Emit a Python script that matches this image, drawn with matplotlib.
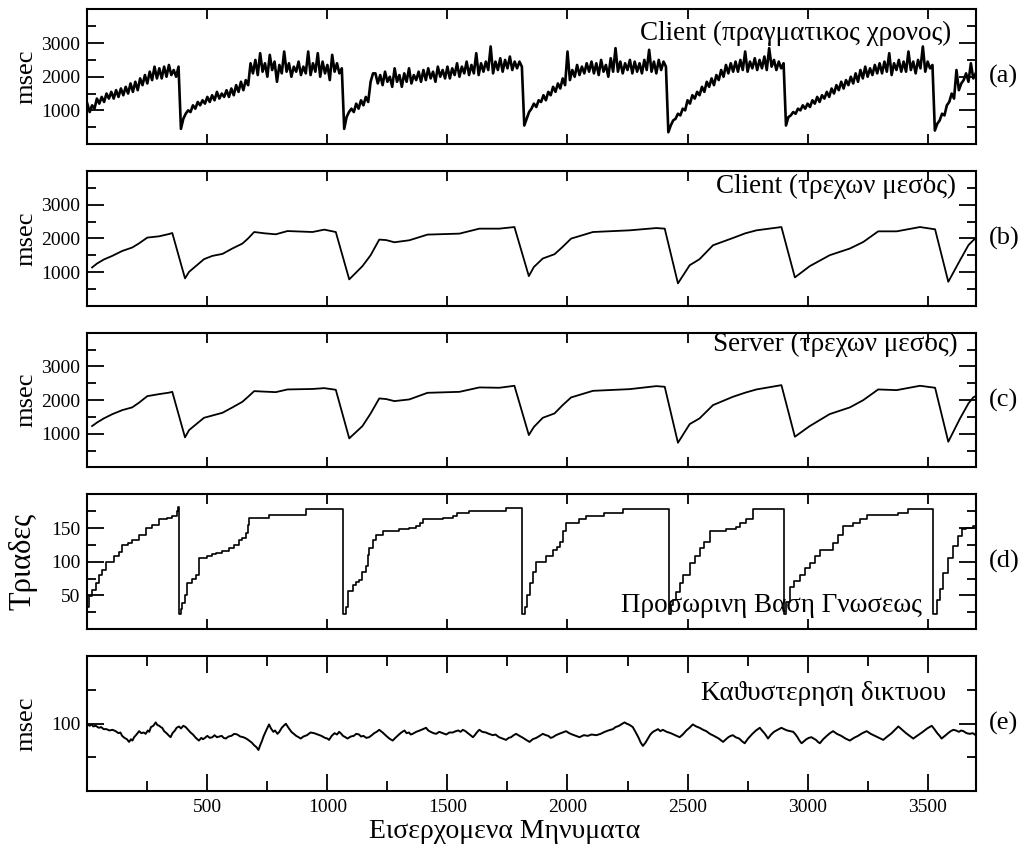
import matplotlib

matplotlib.use("Agg")
import matplotlib.pyplot as plt
import numpy as np
from matplotlib.ticker import FixedLocator, MultipleLocator

SERIF = ["Liberation Serif", "DejaVu Serif"]
plt.rcParams["font.family"] = SERIF

# (a) client response time, one sample every 10 messages
REALTIME_STEP = 10
client_realtime = [
    1200, 950, 1150, 1050, 1350, 1200, 1400, 1250, 1500, 1350,
    1550, 1350, 1600, 1400, 1650, 1450, 1700, 1500, 1800, 1550,
    1850, 1600, 1950, 1750, 2050, 1800, 2150, 1900, 2300, 1950,
    2250, 1950, 2300, 2000, 2350, 2050, 2200, 2000, 2300, 450,
    750, 900, 1000, 950, 1150, 1050, 1250, 1150, 1300, 1200,
    1400, 1250, 1450, 1300, 1550, 1350, 1500, 1400, 1600, 1400,
    1650, 1450, 1750, 1550, 1850, 1600, 1900, 1750, 2400, 2100,
    2500, 2050, 2700, 2150, 2400, 2000, 2650, 2200, 2450, 1850,
    2350, 2100, 2750, 2150, 2400, 2000, 2300, 2150, 2450, 2050,
    2300, 2100, 2750, 2050, 2400, 2150, 2700, 2000, 2450, 2100,
    2350, 1900, 2650, 2150, 2400, 2100, 2250, 450, 800, 950,
    1050, 950, 1200, 1050, 1300, 1150, 1400, 1250, 1850, 2100,
    2100, 1800, 2050, 1750, 2150, 1850, 2000, 1700, 2250, 1850,
    2050, 1700, 2100, 1850, 2250, 1800, 2050, 1900, 2150, 1850,
    2200, 1900, 2250, 1950, 2150, 1850, 2300, 2000, 2200, 1950,
    2300, 1950, 2250, 2050, 2400, 2000, 2300, 2100, 2450, 2050,
    2350, 2100, 2700, 2050, 2400, 2150, 2450, 2200, 2900, 2100,
    2450, 2200, 2550, 2150, 2500, 2250, 2600, 2200, 2450, 2250,
    2450, 2300, 550, 750, 950, 1050, 1200, 1100, 1300, 1250,
    1450, 1300, 1550, 1450, 1700, 1550, 1800, 1650, 1950, 1750,
    2750, 1900, 2200, 2000, 2350, 2050, 2300, 2100, 2400, 2150,
    2450, 2100, 2400, 2050, 2500, 2150, 2350, 2000, 2550, 2150,
    2850, 2150, 2450, 2100, 2400, 2200, 2500, 2100, 2450, 2150,
    2400, 2100, 2500, 2200, 2800, 2150, 2450, 2100, 2500, 2200,
    2450, 2300, 350, 550, 700, 750, 900, 850, 1050, 1000,
    1300, 1200, 1450, 1350, 1550, 1450, 1700, 1550, 1850, 1700,
    1950, 1750, 2050, 1900, 2200, 2000, 2350, 2100, 2400, 2150,
    2450, 2150, 2500, 2200, 2750, 2150, 2450, 2250, 2550, 2200,
    2500, 2250, 2600, 2200, 2850, 2300, 2500, 2200, 2450, 2250,
    2400, 550, 800, 850, 950, 900, 1050, 1000, 1150, 1050,
    1200, 1100, 1300, 1200, 1400, 1250, 1450, 1350, 1550, 1400,
    1650, 1500, 1750, 1600, 1850, 1650, 1900, 1750, 2000, 1800,
    2100, 1850, 2200, 1950, 2300, 2000, 2250, 2050, 2350, 2100,
    2400, 2100, 2450, 2150, 2700, 2050, 2400, 2200, 2500, 2150,
    2450, 2150, 2750, 2200, 2450, 2100, 2500, 2250, 2900, 2150,
    2450, 2250, 2350, 400, 600, 700, 900, 850, 1150, 1250,
    1500, 1350, 2200, 1600, 1800, 1900, 2100, 1850, 2400, 1950,
    2100,
]

# (b) client running mean
client_mean_x = [
    20, 40, 69, 104, 146, 187, 215, 250, 299, 340, 354, 407, 424, 486, 521,
    563, 604, 646, 670, 695, 740, 785, 834, 938, 987, 1035, 1091, 1146, 1180,
    1216, 1245, 1279, 1341, 1417, 1550, 1633, 1716, 1779, 1839, 1860, 1897,
    1946, 1980, 2015, 2106, 2259, 2370, 2405, 2460, 2509, 2550, 2606, 2689,
    2740, 2787, 2891, 2947, 3009, 3092, 3176, 3232, 3294, 3371, 3468, 3531,
    3586, 3635, 3670, 3690, 3700,
]
client_mean_y = [
    1136, 1250, 1373, 1480, 1628, 1728, 1850, 2024, 2062, 2130, 2160, 811,
    1006, 1382, 1480, 1539, 1699, 1846, 2000, 2190, 2150, 2122, 2219, 2190,
    2261, 2190, 781, 1175, 1500, 1965, 1950, 1885, 1944, 2113, 2142, 2290,
    2290, 2338, 879, 1150, 1402, 1530, 1750, 1994, 2190, 2240, 2308, 2290,
    663, 1204, 1382, 1796, 2012, 2150, 2240, 2338, 840, 1175, 1500, 1699,
    1894, 2210, 2210, 2338, 2270, 710, 1352, 1800, 1944, 2000,
]

# (c) server running mean
server_mean_x = [
    20, 40, 69, 104, 146, 187, 215, 250, 299, 340, 354, 407, 424, 486, 563,
    604, 646, 670, 695, 740, 785, 834, 938, 987, 1035, 1091, 1146, 1180, 1216,
    1245, 1279, 1341, 1417, 1550, 1633, 1716, 1779, 1839, 1860, 1897, 1946,
    1980, 2015, 2106, 2259, 2370, 2405, 2460, 2509, 2550, 2606, 2689, 2740,
    2787, 2891, 2947, 3009, 3092, 3176, 3232, 3294, 3371, 3468, 3531, 3586,
    3635, 3670, 3690, 3700,
]
server_mean_y = [
    1227, 1330, 1455, 1580, 1702, 1782, 1920, 2117, 2177, 2220, 2245, 891,
    1108, 1473, 1622, 1780, 1949, 2100, 2266, 2250, 2236, 2316, 2330, 2355,
    2306, 861, 1227, 1600, 2049, 2030, 1969, 2019, 2216, 2245, 2376, 2366,
    2425, 960, 1200, 1473, 1603, 1850, 2079, 2275, 2325, 2415, 2395, 731,
    1286, 1455, 1850, 2098, 2220, 2316, 2444, 910, 1227, 1583, 1782, 1999,
    2316, 2296, 2425, 2366, 761, 1455, 1900, 2079, 2118,
]

# (d) triples in the temporary knowledge base
triples_x = [
    0, 7, 20, 35, 48, 60, 76, 111, 130, 146, 170, 187, 215, 243, 270, 299,
    330, 354, 372, 379,
    382, 390, 396, 405, 417, 435, 452, 465, 500, 520, 535, 560, 590, 610, 632,
    645, 660, 668, 674, 757, 910,
    1066, 1077, 1084, 1105, 1120, 1133, 1145, 1161, 1168, 1174, 1188, 1202,
    1230, 1300, 1340, 1369, 1385, 1397, 1480, 1522, 1540, 1591, 1744,
    1810, 1821, 1830, 1842, 1855, 1869, 1911, 1939, 1955, 1967, 1980, 1994,
    2050, 2078, 2150, 2231,
    2421, 2430, 2439, 2450, 2467, 2480, 2509, 2530, 2550, 2570, 2592, 2662,
    2700, 2720, 2745, 2773,
    2902, 2910, 2926, 2945, 2968, 2990, 3009, 3030, 3051, 3106, 3125, 3148,
    3190, 3220, 3246, 3378, 3419,
    3522, 3537, 3550, 3565, 3585, 3607, 3625, 3642, 3660, 3690, 3700,
]
triples_y = [
    33, 49, 58, 68, 81, 88, 100, 108, 115, 125, 128, 133, 140, 150, 155, 163,
    165, 168, 175, 181,
    23, 30, 38, 50, 68, 75, 81, 105, 108, 111, 113, 116, 120, 125, 133, 136,
    143, 155, 165, 170, 178,
    23, 33, 56, 66, 70, 73, 85, 93, 110, 120, 133, 140, 145, 148, 150, 153,
    158, 163, 165, 168, 172, 175, 180,
    23, 33, 50, 68, 85, 100, 108, 118, 122, 130, 145, 158, 163, 168, 172, 179,
    23, 35, 43, 55, 68, 80, 98, 108, 120, 130, 145, 148, 152, 158, 163, 179,
    23, 40, 63, 72, 81, 90, 98, 108, 118, 128, 140, 153, 158, 163, 170, 173,
    178,
    23, 43, 60, 83, 105, 123, 138, 148, 150, 153, 153,
]

# (e) network delay
net_x = [
    0, 10, 18, 25, 35, 48, 58, 68, 80, 92, 105, 118, 130, 138, 145, 155, 165,
    174, 182, 188, 195, 205, 216, 225, 235, 243, 252, 258, 265, 275, 285, 292,
    300, 306, 312, 320, 330, 338, 347, 355, 365, 372, 382, 390, 400, 410, 420,
    430, 440, 452, 465, 475, 482, 490, 500, 510, 521, 530, 540, 550, 560, 568,
    577, 588, 600, 612, 625, 637, 650, 662, 674, 685, 695, 705, 713, 720, 727,
    735, 745, 757, 765, 775, 782, 792, 800, 810, 818, 827, 838, 850, 860, 870,
    880, 889, 900, 915, 930, 945, 960, 975, 990, 1000, 1007, 1018, 1030, 1040,
    1049, 1058, 1065, 1075, 1084, 1097, 1110, 1120, 1132, 1140, 1150, 1162,
    1174, 1185, 1195, 1205, 1216, 1230, 1245, 1258, 1272, 1283, 1295, 1308,
    1321, 1330, 1340, 1347, 1355, 1370, 1385, 1398, 1411, 1420, 1430, 1442,
    1453, 1466, 1480, 1495, 1508, 1522, 1535, 1545, 1555, 1564, 1575, 1585,
    1596, 1606, 1614, 1620, 1627, 1633, 1645, 1660, 1673, 1689, 1700, 1715,
    1730, 1744, 1755, 1765, 1776, 1786, 1800, 1815, 1828, 1842, 1855, 1870,
    1884, 1897, 1910, 1920, 1930, 1939, 1952, 1965, 1980, 1994, 2007, 2020,
    2035, 2050, 2068, 2085, 2100, 2120, 2138, 2155, 2170, 2189, 2200, 2215,
    2228, 2238, 2247, 2255, 2264, 2272, 2283, 2295, 2305, 2314, 2325, 2335,
    2345, 2356, 2367, 2377, 2387, 2397, 2413, 2430, 2448, 2467, 2480, 2495,
    2508, 2522, 2536, 2550, 2565, 2578, 2593, 2610, 2630, 2648, 2660, 2670,
    2680, 2689, 2700, 2715, 2727, 2738, 2752, 2770, 2785, 2801, 2810, 2820,
    2828, 2835, 2848, 2860, 2875, 2891, 2902, 2915, 2928, 2940, 2950, 2958,
    2966, 2975, 2985, 2995, 3005, 3016, 3025, 3035, 3043, 3051, 3065, 3080,
    3093, 3106, 3122, 3140, 3158, 3176, 3193, 3210, 3228, 3246, 3263, 3280,
    3298, 3315, 3332, 3350, 3364, 3378, 3394, 3410, 3425, 3440, 3460, 3480,
    3498, 3517, 3528, 3540, 3550, 3558, 3572, 3585, 3596, 3607, 3618, 3630,
    3640, 3649, 3662, 3675, 3688, 3700,
]
net_y = [
    99, 97, 99, 96, 97, 94, 95, 92, 92, 90, 91, 89, 86, 87, 82, 79, 77,
    73, 77, 75, 80, 84, 89, 86, 87, 85, 90, 88, 95, 97, 102, 98,
    97, 95, 94, 89, 86, 83, 80, 86, 90, 94, 96, 93, 97, 95, 91,
    87, 84, 79, 75, 79, 77, 79, 82, 79, 80, 83, 80, 81, 82, 79,
    78, 81, 82, 85, 84, 81, 80, 78, 75, 72, 68, 65, 61, 68, 74,
    82, 90, 99, 93, 88, 90, 85, 88, 94, 97, 100, 94, 88, 85, 82,
    80, 78, 81, 83, 87, 86, 84, 82, 79, 78, 76, 82, 86, 84,
    88, 85, 82, 80, 78, 81, 82, 85, 84, 81, 82, 79,
    80, 83, 86, 88, 91, 87, 82, 78, 75, 79, 83, 87,
    90, 86, 87, 84, 85, 88, 90, 92, 94, 90, 88, 86,
    85, 88, 86, 84, 87, 87, 89, 90, 88, 91, 89, 86,
    83, 80, 83, 86, 89, 91, 88, 87, 85, 83, 84, 80,
    78, 76, 79, 80, 83, 85, 82, 79, 76, 73, 77, 79,
    82, 85, 83, 82, 79, 80, 83, 85, 87, 89, 86, 84,
    82, 80, 83, 82, 84, 83, 85, 88, 90, 92, 95, 97,
    100, 102, 100, 99, 97, 95, 88, 80, 72, 67, 72, 78,
    84, 88, 90, 92, 89, 91, 88, 86, 83, 80, 84, 90,
    94, 99, 96, 94, 91, 89, 85, 82, 78, 73, 77, 80,
    82, 83, 80, 78, 74, 71, 78, 85, 90, 94, 90, 86,
    82, 78, 84, 88, 91, 94, 92, 90, 89, 88, 84, 80,
    75, 71, 74, 77, 79, 80, 78, 76, 73, 71, 77, 82,
    86, 89, 85, 82, 78, 75, 79, 82, 86, 89, 85, 82,
    79, 76, 81, 86, 91, 96, 91, 86, 82, 78, 83, 88,
    93, 97, 92, 86, 82, 78, 82, 86, 89, 91, 90, 88,
    90, 89, 86, 85, 86, 83,
]

panel_titles = [
    "Client (πραγματικος χρονος)",
    "Client (τρεχων μεσος)",
    "Server (τρεχων μεσος)",
    "Προσωρινη Βαση Γνωσεως",
    "Καϑυστερηση δικτυου",
]
panel_tags = ["(a)", "(b)", "(c)", "(d)", "(e)"]
y_labels = ["msec", "msec", "msec", "Τριαδες", "msec"]
x_label = "Εισερχομενα Μηνυματα"
x_ticks = [500, 1000, 1500, 2000, 2500, 3000, 3500]

fig = plt.figure(figsize=(10.33, 8.46), dpi=100)
left, width, height = 0.0845, 0.860, 0.159
bottoms = [0.8298, 0.6387, 0.4476, 0.2565, 0.0650]
axes = [fig.add_axes([left, b, width, height]) for b in bottoms]


def style_axis(ax, bottom_panel):
    ax.set_xlim(0, 3700)
    for spine in ax.spines.values():
        spine.set_linewidth(1.5)
    ax.xaxis.set_major_locator(FixedLocator(x_ticks))
    ax.tick_params(which="both", direction="in", top=True, right=True, width=1.3)
    ax.tick_params(axis="y", which="major", length=12.5, labelsize=14, pad=5)
    ax.tick_params(axis="y", which="minor", length=6.5)
    if bottom_panel:
        ax.xaxis.set_minor_locator(MultipleLocator(250))
        ax.tick_params(axis="x", which="major", length=12.5, labelsize=14, pad=6)
        ax.tick_params(axis="x", which="minor", length=7)
    else:
        ax.tick_params(axis="x", which="major", length=7, labelbottom=False)


x_real = np.arange(len(client_realtime)) * REALTIME_STEP
axes[0].plot(x_real, client_realtime, color="black", linewidth=1.9)
axes[1].plot(client_mean_x, client_mean_y, color="black", linewidth=1.3)
axes[2].plot(server_mean_x, server_mean_y, color="black", linewidth=1.3)
axes[3].plot(triples_x, triples_y, color="black", linewidth=1.2, drawstyle="steps-post")
axes[4].plot(net_x, net_y, color="black", linewidth=1.4)

for i, ax in enumerate(axes):
    style_axis(ax, i == 4)

for ax in axes[:3]:
    ax.set_ylim(0, 4000)
    ax.yaxis.set_major_locator(FixedLocator([1000, 2000, 3000]))
    ax.yaxis.set_minor_locator(MultipleLocator(500))

axes[3].set_ylim(0, 200)
axes[3].yaxis.set_major_locator(FixedLocator([50, 100, 150]))
axes[3].yaxis.set_minor_locator(MultipleLocator(25))

axes[4].set_ylim(0, 200)
axes[4].yaxis.set_major_locator(FixedLocator([100]))
axes[4].yaxis.set_minor_locator(MultipleLocator(50))

title_pos = [(0.973, 0.82), (0.978, 0.89), (0.980, 0.91), (0.940, 0.175), (0.967, 0.725)]
for ax, title, pos, tag, ylab in zip(axes, panel_titles, title_pos, panel_tags, y_labels):
    ax.text(pos[0], pos[1], title, transform=ax.transAxes, ha="right", va="center",
            fontsize=19.5)
    ax.text(1.015, 0.5, tag, transform=ax.transAxes, ha="left", va="center", fontsize=19)
    ax.set_ylabel(ylab, fontsize=22 if ylab != "msec" else 19)
    ax.yaxis.set_label_coords(-0.056, 0.5)

axes[4].set_xlabel(x_label, fontsize=20)
axes[4].xaxis.set_label_coords(0.47, -0.205)

fig.savefig("out.png", dpi=100)
